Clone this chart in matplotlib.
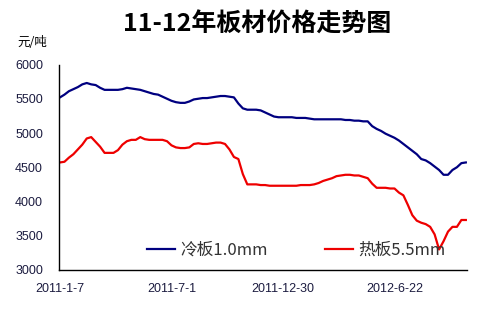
import matplotlib
matplotlib.use("Agg")
import matplotlib.pyplot as plt
from matplotlib.lines import Line2D

plt.rcParams['font.family'] = ['Noto Sans CJK SC', 'DejaVu Sans']

title = "11-12年板材价格走势图"
unit = "元/吨"
series_names = ["冷板1.0mm", "热板5.5mm"]
xtick_labels = ["2011-1-7", "2011-7-1", "2011-12-30", "2012-6-22"]
xtick_index = [0, 25, 50, 75]
yticks = [3000, 3500, 4000, 4500, 5000, 5500, 6000]

cold = [5520, 5560, 5610, 5640, 5670, 5710, 5730, 5710, 5700, 5660,
        5630, 5630, 5630, 5630, 5640, 5660, 5650, 5640, 5630, 5610,
        5590, 5570, 5560, 5530, 5500, 5470, 5450, 5440, 5440, 5460,
        5490, 5500, 5510, 5510, 5520, 5530, 5540, 5540, 5530, 5520,
        5430, 5360, 5340, 5340, 5340, 5330, 5300, 5270, 5240, 5230,
        5230, 5230, 5230, 5220, 5220, 5220, 5210, 5200, 5200, 5200,
        5200, 5200, 5200, 5200, 5190, 5190, 5180, 5180, 5170, 5170,
        5100, 5060, 5030, 4990, 4960, 4930, 4890, 4840, 4790, 4740,
        4690, 4620, 4600, 4560, 4510, 4460, 4390, 4390, 4460, 4500,
        4560, 4570]

hot = [4570, 4580, 4640, 4690, 4760, 4830, 4920, 4940, 4870, 4800,
       4710, 4710, 4710, 4750, 4830, 4880, 4900, 4900, 4940, 4910,
       4900, 4900, 4900, 4900, 4880, 4820, 4790, 4780, 4780, 4790,
       4840, 4850, 4840, 4840, 4850, 4860, 4860, 4840, 4760, 4650,
       4620, 4400, 4250, 4250, 4250, 4240, 4240, 4230, 4230, 4230,
       4230, 4230, 4230, 4230, 4240, 4240, 4240, 4250, 4270, 4300,
       4320, 4340, 4370, 4380, 4390, 4390, 4380, 4380, 4360, 4340,
       4260, 4200, 4200, 4200, 4190, 4190, 4130, 4090, 3950, 3800,
       3720, 3690, 3670, 3630, 3520, 3300, 3420, 3560, 3630, 3630,
       3730, 3730]

W, H = 485, 309
fig = plt.figure(figsize=(W / 100, H / 100), dpi=100)
ax = fig.add_axes([59 / W, 1 - 270 / H, (467 - 59) / W, (270 - 64.5) / H])

x = list(range(len(cold)))
ax.plot(x, cold, color="#000080", lw=1.6, solid_joinstyle="round")
ax.plot(x, hot, color="#EE0000", lw=1.6, solid_joinstyle="round")

ax.set_xlim(-0.22, 91.26)
ax.set_ylim(3000, 6000)
ax.set_yticks(yticks)
ax.set_yticklabels([str(v) for v in yticks])
ax.set_xticks(xtick_index)
ax.set_xticklabels(xtick_labels)
ax.tick_params(axis="both", length=0, labelsize=9, labelcolor="#1c1c40")
ax.tick_params(axis="y", pad=11.5)
ax.tick_params(axis="x", pad=9)
for lab in ax.get_xticklabels() + ax.get_yticklabels():
    lab.set_family(["Liberation Sans", "DejaVu Sans"])

for s in ["top", "right"]:
    ax.spines[s].set_visible(False)
for s in ["left", "bottom"]:
    ax.spines[s].set_linewidth(1.0)
    ax.spines[s].set_color("black")

handles = [Line2D([0], [0], color="#000080", lw=1.6),
           Line2D([0], [0], color="#EE0000", lw=1.6)]
leg = ax.legend(handles, series_names, ncol=2, frameon=False,
                loc="center left", bbox_to_anchor=((147 - 59) / 408, (270 - 250) / 205.5),
                fontsize=12, handlelength=1.7, handletextpad=0.3,
                columnspacing=3.4, borderaxespad=0, borderpad=0)
for t in leg.get_texts():
    t.set_color("#333333")

fig.text(257 / W, 1 - 25 / H, title, ha="center", va="center",
         fontsize=18, fontweight="bold", color="black")
fig.text(17 / W, 1 - 43 / H, unit, ha="left", va="center", fontsize=9, color="black")

fig.savefig("out.png", dpi=100)
